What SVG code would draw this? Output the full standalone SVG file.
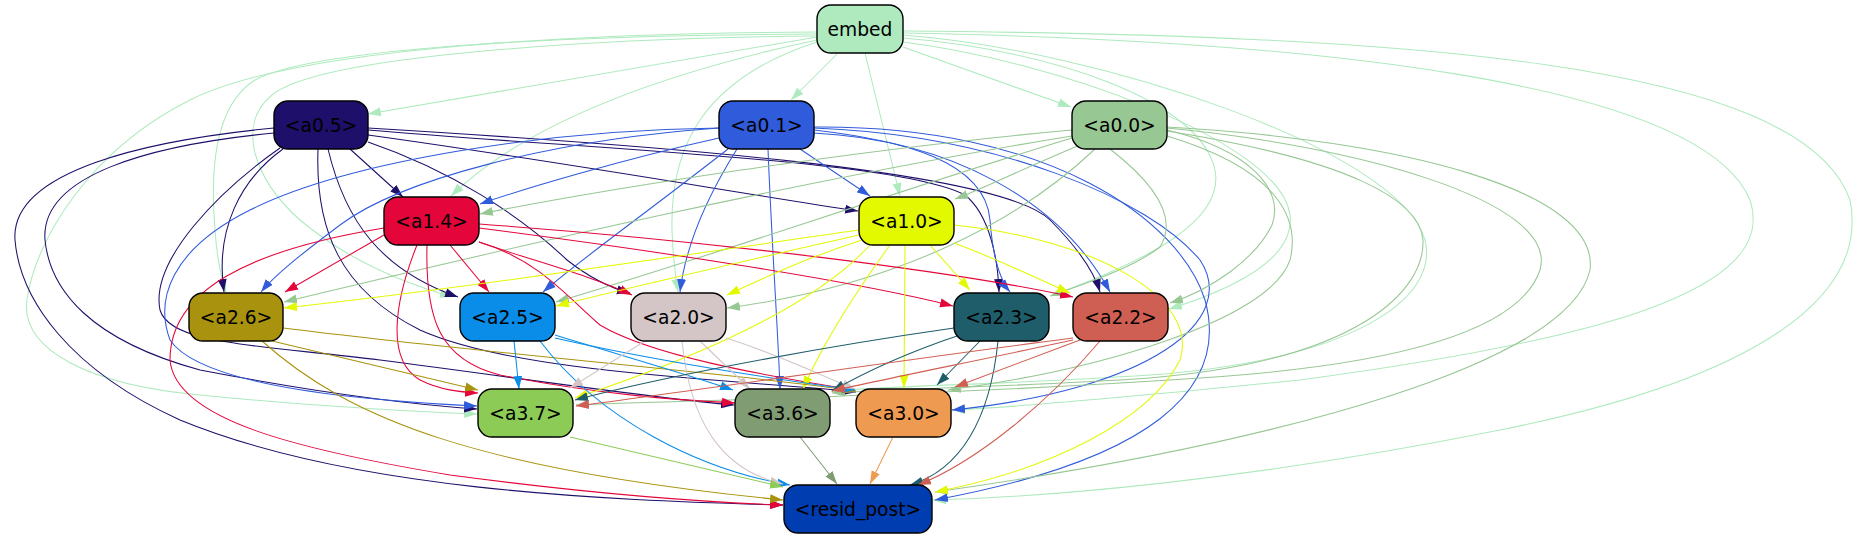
<svg xmlns="http://www.w3.org/2000/svg" width="1858" height="539" viewBox="0 0 1858 539">
<style>
.n rect{stroke:#000;stroke-width:1.4}
.n text{font-family:"DejaVu Sans","Liberation Sans",sans-serif;font-size:18.67px;text-anchor:middle;fill:#000}
#edges path{fill:none;stroke-width:1.05}
.s-embed{stroke:#aeeabe;marker-end:url(#m-embed)}
.s-a05{stroke:#1e0f6a;marker-end:url(#m-a05)}
.s-a01{stroke:#305bdb;marker-end:url(#m-a01)}
.s-a00{stroke:#97c793;marker-end:url(#m-a00)}
.s-a14{stroke:#e4063a;marker-end:url(#m-a14)}
.s-a10{stroke:#e2f900;marker-end:url(#m-a10)}
.s-a26{stroke:#a9930e;marker-end:url(#m-a26)}
.s-a25{stroke:#0a8de9;marker-end:url(#m-a25)}
.s-a20{stroke:#d4c6c7;marker-end:url(#m-a20)}
.s-a23{stroke:#1f5d6b;marker-end:url(#m-a23)}
.s-a22{stroke:#d05f53;marker-end:url(#m-a22)}
.s-a37{stroke:#8dcb57;marker-end:url(#m-a37)}
.s-a36{stroke:#7f9c72;marker-end:url(#m-a36)}
.s-a30{stroke:#ef9a51;marker-end:url(#m-a30)}
</style>
<defs>
<marker id="m-embed" markerUnits="userSpaceOnUse" markerWidth="13" markerHeight="10" refX="13" refY="5" orient="auto"><path d="M0,0.5L13,5L0,9.5z" fill="#aeeabe"/></marker>
<marker id="m-a05" markerUnits="userSpaceOnUse" markerWidth="13" markerHeight="10" refX="13" refY="5" orient="auto"><path d="M0,0.5L13,5L0,9.5z" fill="#1e0f6a"/></marker>
<marker id="m-a01" markerUnits="userSpaceOnUse" markerWidth="13" markerHeight="10" refX="13" refY="5" orient="auto"><path d="M0,0.5L13,5L0,9.5z" fill="#305bdb"/></marker>
<marker id="m-a00" markerUnits="userSpaceOnUse" markerWidth="13" markerHeight="10" refX="13" refY="5" orient="auto"><path d="M0,0.5L13,5L0,9.5z" fill="#97c793"/></marker>
<marker id="m-a14" markerUnits="userSpaceOnUse" markerWidth="13" markerHeight="10" refX="13" refY="5" orient="auto"><path d="M0,0.5L13,5L0,9.5z" fill="#e4063a"/></marker>
<marker id="m-a10" markerUnits="userSpaceOnUse" markerWidth="13" markerHeight="10" refX="13" refY="5" orient="auto"><path d="M0,0.5L13,5L0,9.5z" fill="#e2f900"/></marker>
<marker id="m-a26" markerUnits="userSpaceOnUse" markerWidth="13" markerHeight="10" refX="13" refY="5" orient="auto"><path d="M0,0.5L13,5L0,9.5z" fill="#a9930e"/></marker>
<marker id="m-a25" markerUnits="userSpaceOnUse" markerWidth="13" markerHeight="10" refX="13" refY="5" orient="auto"><path d="M0,0.5L13,5L0,9.5z" fill="#0a8de9"/></marker>
<marker id="m-a20" markerUnits="userSpaceOnUse" markerWidth="13" markerHeight="10" refX="13" refY="5" orient="auto"><path d="M0,0.5L13,5L0,9.5z" fill="#d4c6c7"/></marker>
<marker id="m-a23" markerUnits="userSpaceOnUse" markerWidth="13" markerHeight="10" refX="13" refY="5" orient="auto"><path d="M0,0.5L13,5L0,9.5z" fill="#1f5d6b"/></marker>
<marker id="m-a22" markerUnits="userSpaceOnUse" markerWidth="13" markerHeight="10" refX="13" refY="5" orient="auto"><path d="M0,0.5L13,5L0,9.5z" fill="#d05f53"/></marker>
<marker id="m-a37" markerUnits="userSpaceOnUse" markerWidth="13" markerHeight="10" refX="13" refY="5" orient="auto"><path d="M0,0.5L13,5L0,9.5z" fill="#8dcb57"/></marker>
<marker id="m-a36" markerUnits="userSpaceOnUse" markerWidth="13" markerHeight="10" refX="13" refY="5" orient="auto"><path d="M0,0.5L13,5L0,9.5z" fill="#7f9c72"/></marker>
<marker id="m-a30" markerUnits="userSpaceOnUse" markerWidth="13" markerHeight="10" refX="13" refY="5" orient="auto"><path d="M0,0.5L13,5L0,9.5z" fill="#ef9a51"/></marker>
</defs>
<rect width="1858" height="539" fill="#fff"/>
<g id="edges">
<!-- embed -->
<path class="s-embed" d="M817,37L368,114"/>
<path class="s-embed" d="M838,53L791,100"/>
<path class="s-embed" d="M903,47L1071,107"/>
<path class="s-embed" d="M865,53L900,196"/>
<path class="s-embed" d="M817,40C700,65 540,110 451,196"/>
<path class="s-embed" d="M817,42C700,80 670,150 672,230C673,260 676,280 678,292"/>
<path class="s-embed" d="M817,36C600,38 320,55 272,95C235,125 255,180 300,220C350,262 410,285 453,297"/>
<path class="s-embed" d="M817,34C600,35 320,45 255,80C215,105 210,170 215,230C217,260 222,280 226,292"/>
<path class="s-embed" d="M817,32C600,33 300,45 190,100C90,150 35,240 27,300C20,350 90,385 200,395C300,405 420,412 477,414"/>
<path class="s-embed" d="M903,38C1050,50 1200,100 1215,170C1225,220 1150,260 1050,296"/>
<path class="s-embed" d="M903,42C1050,60 1280,140 1290,215C1295,260 1230,290 1169,309"/>
<path class="s-embed" d="M903,35C1100,50 1400,150 1425,240C1440,300 1350,360 1150,375C1000,385 900,385 831,391"/>
<path class="s-embed" d="M903,33C1300,40 1700,80 1750,200C1780,290 1600,340 1300,380C1100,400 1000,408 952,410"/>
<path class="s-embed" d="M903,31C1400,35 1800,60 1850,200C1870,300 1750,380 1500,430C1250,480 1050,497 933,500"/>
<!-- a0.5 -->
<path class="s-a05" d="M350,149L403,197"/>
<path class="s-a05" d="M368,135C550,160 750,195 858,211"/>
<path class="s-a05" d="M283,149C240,180 215,230 224,292"/>
<path class="s-a05" d="M328,149C345,220 380,270 458,297"/>
<path class="s-a05" d="M368,142C450,170 520,215 567,260C590,278 610,288 630,293"/>
<path class="s-a05" d="M368,130C600,150 900,160 965,195C990,215 998,260 999,292"/>
<path class="s-a05" d="M368,128C650,145 1000,170 1050,220C1080,250 1095,275 1100,292"/>
<path class="s-a05" d="M274,133C150,145 40,175 45,240C50,290 90,340 200,370C330,395 420,405 477,409"/>
<path class="s-a05" d="M280,148C220,190 150,260 160,310C170,345 260,345 380,360C520,378 650,398 734,405"/>
<path class="s-a05" d="M318,149C315,230 340,290 420,330C520,375 750,380 856,392"/>
<path class="s-a05" d="M274,128C150,140 10,170 15,240C20,300 70,370 180,420C350,490 600,500 783,505"/>
<!-- a0.1 -->
<path class="s-a01" d="M719,138C620,160 520,190 480,204"/>
<path class="s-a01" d="M800,149L870,196"/>
<path class="s-a01" d="M719,128C550,140 400,180 340,225C300,255 275,275 261,292"/>
<path class="s-a01" d="M728,149C650,210 580,260 543,292"/>
<path class="s-a01" d="M737,149C705,200 685,250 680,292"/>
<path class="s-a01" d="M814,130C900,140 985,160 990,220C993,260 1000,280 1010,292"/>
<path class="s-a01" d="M814,133C950,140 1060,200 1110,292"/>
<path class="s-a01" d="M719,128C550,130 350,160 250,210C170,250 155,300 170,340C200,385 350,400 477,406"/>
<path class="s-a01" d="M768,149C772,250 778,330 780,389"/>
<path class="s-a01" d="M814,128C1000,135 1150,200 1200,260C1240,320 1150,390 952,410"/>
<path class="s-a01" d="M814,127C1050,125 1180,220 1205,300C1230,390 1150,460 935,500"/>
<!-- a0.0 -->
<path class="s-a00" d="M1072,130C850,150 600,190 480,214"/>
<path class="s-a00" d="M1080,145C1020,170 980,190 955,199"/>
<path class="s-a00" d="M1072,136C800,180 500,250 284,302"/>
<path class="s-a00" d="M1072,138C900,190 700,260 556,302"/>
<path class="s-a00" d="M1095,149C1020,220 900,285 727,308"/>
<path class="s-a00" d="M1110,149C1150,180 1180,215 1160,247C1130,270 1080,285 1051,296"/>
<path class="s-a00" d="M1167,130C1250,150 1285,190 1272,225C1255,260 1210,290 1170,303"/>
<path class="s-a00" d="M1167,128C1350,145 1560,200 1540,270C1520,330 1400,365 1200,378C950,395 700,400 576,405"/>
<path class="s-a00" d="M1167,131C1350,160 1420,200 1423,240C1425,290 1360,360 1150,378C1000,388 900,388 832,393"/>
<path class="s-a00" d="M1167,136C1280,170 1300,220 1290,260C1270,320 1100,370 948,390"/>
<path class="s-a00" d="M1167,127C1400,140 1600,190 1590,270C1570,360 1300,440 935,492"/>
<!-- a1.4 -->
<path class="s-a14" d="M384,235L285,292"/>
<path class="s-a14" d="M450,245L489,292"/>
<path class="s-a14" d="M479,242C530,260 590,275 632,295"/>
<path class="s-a14" d="M479,228C650,250 850,280 953,306"/>
<path class="s-a14" d="M479,224C700,240 950,270 1073,297"/>
<path class="s-a14" d="M417,245C395,300 385,360 420,380C440,390 460,392 478,393"/>
<path class="s-a14" d="M427,245C425,320 440,360 500,375C600,395 680,400 735,403"/>
<path class="s-a14" d="M479,242C540,260 570,300 600,325C650,355 760,375 855,390"/>
<path class="s-a14" d="M384,228C250,250 170,290 170,360C175,420 300,450 450,475C600,495 700,502 783,505"/>
<!-- a1.0 -->
<path class="s-a10" d="M859,230C650,260 450,290 284,308"/>
<path class="s-a10" d="M859,235C750,260 640,285 556,306"/>
<path class="s-a10" d="M862,240C800,260 760,280 727,295"/>
<path class="s-a10" d="M930,245L970,290"/>
<path class="s-a10" d="M954,243C1000,260 1040,280 1070,293"/>
<path class="s-a10" d="M870,245C820,300 720,350 575,398"/>
<path class="s-a10" d="M890,245C850,300 820,350 803,389"/>
<path class="s-a10" d="M905,245L904,388"/>
<path class="s-a10" d="M954,225C1100,240 1200,300 1180,360C1150,420 1050,470 935,492"/>
<!-- a2.6 -->
<path class="s-a26" d="M272,341L478,390"/>
<path class="s-a26" d="M283,328C500,355 750,375 856,391"/>
<path class="s-a26" d="M262,341C350,420 480,470 783,500"/>
<!-- a2.5 -->
<path class="s-a25" d="M514,341L519,389"/>
<path class="s-a25" d="M555,335C620,355 690,375 733,390"/>
<path class="s-a25" d="M555,338C650,360 780,380 855,390"/>
<path class="s-a25" d="M540,341C600,420 700,470 790,485"/>
<!-- a2.0 -->
<path class="s-a20" d="M645,341L570,388"/>
<path class="s-a20" d="M700,341L750,389"/>
<path class="s-a20" d="M726,338C780,355 820,375 855,389"/>
<path class="s-a20" d="M682,341C690,420 720,470 783,484"/>
<!-- a2.3 -->
<path class="s-a23" d="M954,328C800,350 650,380 575,400"/>
<path class="s-a23" d="M960,335C900,355 860,375 832,391"/>
<path class="s-a23" d="M980,341L937,385"/>
<path class="s-a23" d="M998,341C990,420 960,470 910,485"/>
<!-- a2.2 -->
<path class="s-a22" d="M1073,338C900,360 700,390 576,406"/>
<path class="s-a22" d="M1073,340C980,360 880,380 832,391"/>
<path class="s-a22" d="M1080,340L955,387"/>
<path class="s-a22" d="M1100,341C1050,400 980,460 918,485"/>
<!-- layer 3 -->
<path class="s-a37" d="M570,437L783,487"/>
<path class="s-a36" d="M800,437L837,484"/>
<path class="s-a30" d="M893,437L870,484"/>
</g>
<g id="node-embed" class="n"><rect x="817" y="5" width="86" height="48" rx="14" fill="#aeeabe"/><text x="860" y="35.5">embed</text></g>
<g id="node-a0.5" class="n"><rect x="274" y="101" width="94" height="48" rx="14" fill="#1e0f6a"/><text x="321" y="131.5">&lt;a0.5&gt;</text></g>
<g id="node-a0.1" class="n"><rect x="719" y="101" width="95" height="48" rx="14" fill="#305bdb"/><text x="766.5" y="131.5">&lt;a0.1&gt;</text></g>
<g id="node-a0.0" class="n"><rect x="1072" y="101" width="95" height="48" rx="14" fill="#97c793"/><text x="1119.5" y="131.5">&lt;a0.0&gt;</text></g>
<g id="node-a1.4" class="n"><rect x="384" y="197" width="95" height="48" rx="14" fill="#e4063a"/><text x="431.5" y="227.5">&lt;a1.4&gt;</text></g>
<g id="node-a1.0" class="n"><rect x="859" y="197" width="95" height="48" rx="14" fill="#e2f900"/><text x="906.5" y="227.5">&lt;a1.0&gt;</text></g>
<g id="node-a2.6" class="n"><rect x="189" y="293" width="94" height="48" rx="14" fill="#a9930e"/><text x="236" y="323.5">&lt;a2.6&gt;</text></g>
<g id="node-a2.5" class="n"><rect x="460" y="293" width="95" height="48" rx="14" fill="#0a8de9"/><text x="507.5" y="323.5">&lt;a2.5&gt;</text></g>
<g id="node-a2.0" class="n"><rect x="631" y="293" width="95" height="48" rx="14" fill="#d4c6c7"/><text x="678.5" y="323.5">&lt;a2.0&gt;</text></g>
<g id="node-a2.3" class="n"><rect x="954" y="293" width="95" height="48" rx="14" fill="#1f5d6b"/><text x="1001.5" y="323.5">&lt;a2.3&gt;</text></g>
<g id="node-a2.2" class="n"><rect x="1073" y="293" width="95" height="48" rx="14" fill="#d05f53"/><text x="1120.5" y="323.5">&lt;a2.2&gt;</text></g>
<g id="node-a3.7" class="n"><rect x="478" y="389" width="95" height="48" rx="14" fill="#8dcb57"/><text x="525.5" y="419.5">&lt;a3.7&gt;</text></g>
<g id="node-a3.6" class="n"><rect x="735" y="389" width="95" height="48" rx="14" fill="#7f9c72"/><text x="782.5" y="419.5">&lt;a3.6&gt;</text></g>
<g id="node-a3.0" class="n"><rect x="856" y="389" width="95" height="48" rx="14" fill="#ef9a51"/><text x="903.5" y="419.5">&lt;a3.0&gt;</text></g>
<g id="node-resid_post" class="n"><rect x="784" y="485" width="148" height="48" rx="14" fill="#003db0"/><text x="858" y="515.5">&lt;resid_post&gt;</text></g>
</svg>
